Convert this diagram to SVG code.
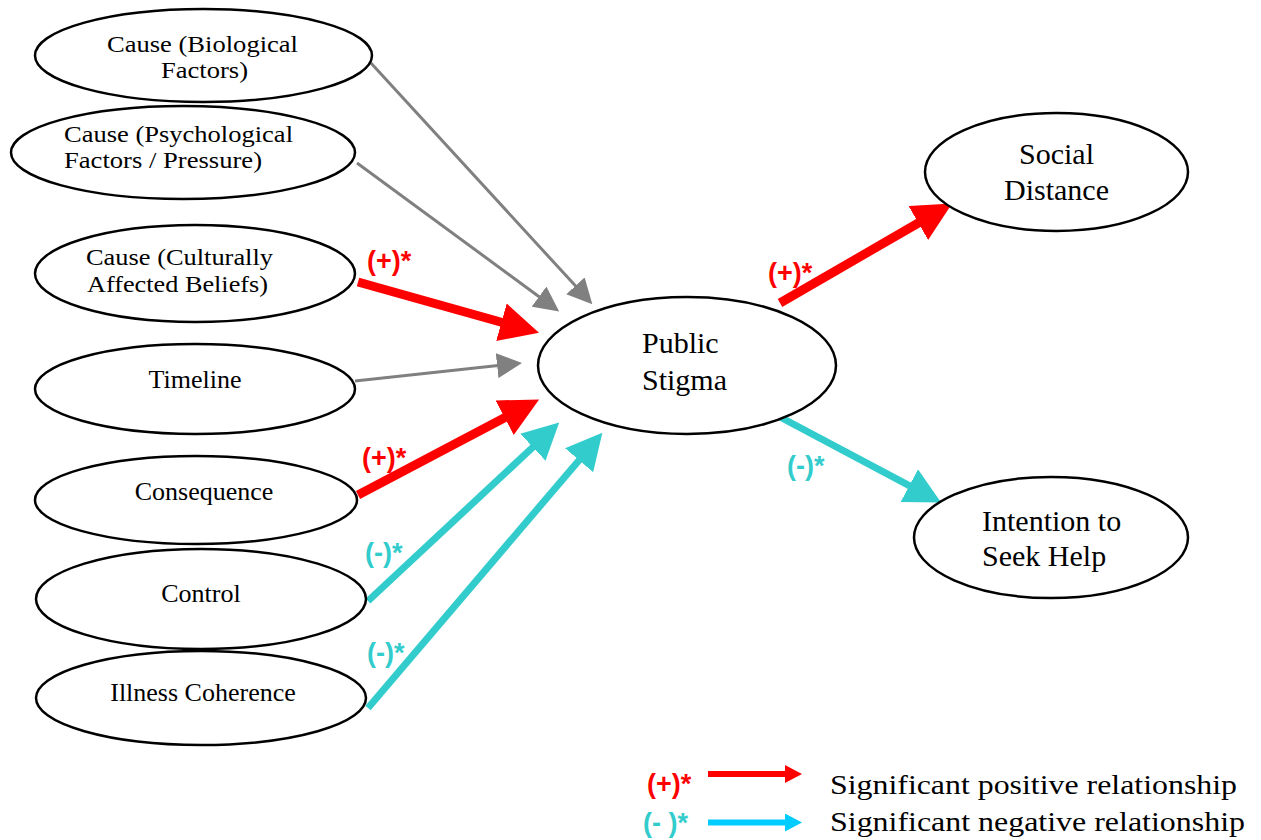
<svg xmlns="http://www.w3.org/2000/svg" width="1261" height="840" viewBox="0 0 1261 840">
<style>
.node ellipse{fill:#fff;stroke:#000;stroke-width:2.5}
.nt{font-family:"Liberation Serif","Times New Roman",serif;font-size:26px;fill:#000}
.nt.s{font-size:23px}
.nt.c{text-anchor:middle}
.nb{font-family:"Liberation Serif","Times New Roman",serif;font-size:30px;fill:#000}
.lab{font-family:"Liberation Sans",Arial,sans-serif;font-weight:bold;font-size:27px}
.pos{fill:#ff0000}
.neg{fill:#33cccc}
.g{stroke:#808080;stroke-width:3;fill:none;marker-end:url(#ag)}
.r{stroke:#ff0000;stroke-width:9;fill:none;marker-end:url(#ar)}
.cy{stroke:#33cccc;stroke-width:7;fill:none;marker-end:url(#ac)}
.lr{stroke:#ff0000;stroke-width:6;fill:none;marker-end:url(#alr)}
.lc{stroke:#00ccff;stroke-width:6;fill:none;marker-end:url(#alc)}
.leg{font-family:"Liberation Serif","Times New Roman",serif;font-size:27px;fill:#000}
</style>
<defs>
<marker id="ag" markerUnits="userSpaceOnUse" viewBox="0 0 25 25" markerWidth="25" markerHeight="25" refX="1" refY="12.5" orient="auto"><path d="M0,0 L25,12.5 L0,25 z" fill="#808080"/></marker>
<marker id="ar" markerUnits="userSpaceOnUse" viewBox="0 0 39 39" markerWidth="39" markerHeight="39" refX="1" refY="19.5" orient="auto"><path d="M0,0 L39,19.5 L0,39 z" fill="#ff0000"/></marker>
<marker id="ac" markerUnits="userSpaceOnUse" viewBox="0 0 36 37" markerWidth="36" markerHeight="37" refX="1" refY="18.5" orient="auto"><path d="M0,0 L36,18.5 L0,37 z" fill="#33cccc"/></marker>
<marker id="alr" markerUnits="userSpaceOnUse" viewBox="0 0 17 18" markerWidth="17" markerHeight="18" refX="1" refY="9" orient="auto"><path d="M0,0 L17,9 L0,18 z" fill="#ff0000"/></marker>
<marker id="alc" markerUnits="userSpaceOnUse" viewBox="0 0 17 18" markerWidth="17" markerHeight="18" refX="1" refY="9" orient="auto"><path d="M0,0 L17,9 L0,18 z" fill="#00ccff"/></marker>
</defs>
<rect width="1261" height="840" fill="#fff"/>
<g id="connectors">
<line class="g" x1="370" y1="62" x2="576.1" y2="286.6"/>
<line class="g" x1="357" y1="163" x2="539.8" y2="297.2"/>
<line class="g" x1="355" y1="381" x2="498.1" y2="365.6"/>
<line class="r" x1="358" y1="282" x2="502.4" y2="322.5"/>
<line class="r" x1="358" y1="495" x2="505.5" y2="417.2"/>
<line class="cy" x1="368" y1="601" x2="533.6" y2="446.5"/>
<line class="cy" x1="368" y1="708" x2="579.7" y2="459.4"/>
<line class="r" x1="780" y1="303" x2="919.2" y2="222.5"/>
<line class="cy" x1="780" y1="417" x2="910.2" y2="486.1"/>
</g>
<g id="labels">
<text class="lab pos" x="367" y="270">(+)*</text>
<text class="lab pos" x="362" y="467">(+)*</text>
<text class="lab neg" x="365" y="562">(-)*</text>
<text class="lab neg" x="367" y="662">(-)*</text>
<text class="lab pos" x="768" y="282">(+)*</text>
<text class="lab neg" x="787" y="475">(-)*</text>
</g>
<g id="n-bio" class="node"><ellipse cx="203.5" cy="55.5" rx="168.5" ry="46.5"/><text class="nt s" x="107" y="52" textLength="191" lengthAdjust="spacingAndGlyphs">Cause (Biological</text><text class="nt s" x="161" y="78" textLength="87" lengthAdjust="spacingAndGlyphs">Factors)</text></g>
<g id="n-psych" class="node"><ellipse cx="183" cy="152.5" rx="172" ry="46.5"/><text class="nt s" x="64" y="142" textLength="229" lengthAdjust="spacingAndGlyphs">Cause (Psychological</text><text class="nt s" x="64" y="168" textLength="198" lengthAdjust="spacingAndGlyphs">Factors / Pressure)</text></g>
<g id="n-cult" class="node"><ellipse cx="195" cy="273.5" rx="160" ry="48.5"/><text class="nt s" x="86" y="265" textLength="187" lengthAdjust="spacingAndGlyphs">Cause (Culturally</text><text class="nt s" x="87" y="292" textLength="181" lengthAdjust="spacingAndGlyphs">Affected Beliefs)</text></g>
<g id="n-time" class="node"><ellipse cx="195" cy="389" rx="160" ry="45"/><text class="nt c" x="195" y="388">Timeline</text></g>
<g id="n-cons" class="node"><ellipse cx="196" cy="500" rx="161" ry="44"/><text class="nt c" x="204" y="500">Consequence</text></g>
<g id="n-ctrl" class="node"><ellipse cx="201" cy="599" rx="165" ry="50"/><text class="nt c" x="201" y="602">Control</text></g>
<g id="n-ill" class="node"><ellipse cx="201" cy="698" rx="165" ry="47"/><text class="nt c" x="203" y="701">Illness Coherence</text></g>
<g id="n-ps" class="node"><ellipse cx="687" cy="365.5" rx="149" ry="68.5"/><text class="nb" x="642" y="353">Public</text><text class="nb" x="642" y="390">Stigma</text></g>
<g id="n-sd" class="node"><ellipse cx="1056.5" cy="172" rx="131.5" ry="59"/><text class="nb" x="1056.5" y="164" text-anchor="middle">Social</text><text class="nb" x="1056.5" y="200" text-anchor="middle">Distance</text></g>
<g id="n-ish" class="node"><ellipse cx="1051" cy="537.5" rx="137" ry="60.5"/><text class="nb" x="982" y="531">Intention to</text><text class="nb" x="982" y="566">Seek Help</text></g>
<g id="legend">
<text class="lab pos" x="647" y="793">(+)*</text>
<line class="lr" x1="708" y1="774" x2="786" y2="774"/>
<text class="leg" x="830" y="794" textLength="407" lengthAdjust="spacingAndGlyphs">Significant positive relationship</text>
<text class="lab neg" x="643" y="832">(- )*</text>
<line class="lc" x1="708" y1="822.5" x2="786" y2="822.5"/>
<text class="leg" x="830" y="831" textLength="415" lengthAdjust="spacingAndGlyphs">Significant negative relationship</text>
</g>
</svg>
